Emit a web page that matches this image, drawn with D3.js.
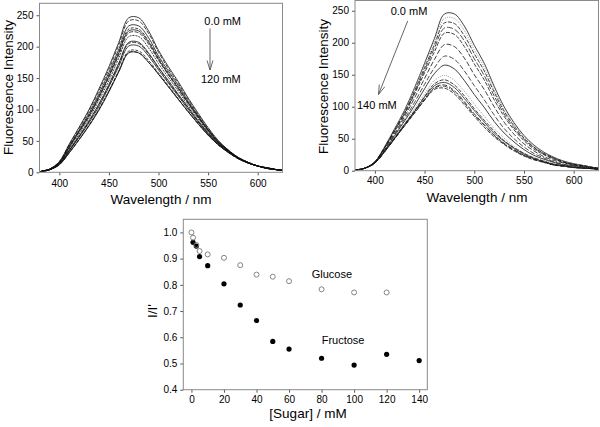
<!DOCTYPE html>
<html><head><meta charset="utf-8">
<script src="https://cdn.jsdelivr.net/npm/d3@7"></script>
<style>
html,body{margin:0;padding:0;background:#fff;}
svg{display:block;font-family:"Liberation Sans",Arial,sans-serif;}
</style></head>
<body>
<svg id="chart" width="600" height="427"></svg>
<script>
// ---------- data ----------
const wavelengths = [380,390,400,410,420,430,440,450,460,470,480,490,500,510,520,530,540,550,560,570,580,590,600,610,620,625];
const waveTicks = [400,450,500,550,600];
const intensityTicks = [0,50,100,150,200,250];

// glucose titration spectra (0 -> 120 mM)
const glucoseLabels = ["0","1","3","5","10","20","30","40","50","60","80","100","120"];
const glu0   = [1,5,17,45,72,100,133,168,207,246,246,225,194,168,144,118,94,71,51,36,24,16,10,7,4,3];
const glu1   = [1,5,17,44,70,98,130,164,203,241,241,221,191,165,141,116,92,70,50,36,24,16,10,7,4,3];
const glu3   = [1,5,16,42,67,94,125,159,196,233,233,214,185,161,138,113,90,68,49,35,24,16,10,7,4,3];
const glu5   = [1,5,15,41,66,92,122,155,192,228,228,209,182,158,135,111,89,67,49,35,23,16,10,7,4,3];
const glu10  = [1,5,15,40,65,90,120,153,190,225,225,207,180,156,134,110,88,67,48,35,23,16,10,7,4,3];
const glu20  = [1,5,15,39,64,89,119,151,187,222,222,204,178,155,132,109,87,66,48,34,23,16,10,7,4,3];
const glu30  = [1,4,14,37,61,86,115,146,182,216,216,198,173,151,129,106,85,65,47,34,23,15,10,6,4,3];
const glu40  = [1,4,13,35,58,82,109,140,174,207,207,190,167,146,124,103,82,63,46,33,23,15,10,6,4,3];
const glu50  = [1,4,13,35,57,81,108,138,172,205,205,188,166,144,123,102,81,62,46,33,23,15,10,6,4,3];
const glu60  = [1,4,13,34,56,79,105,136,169,201,201,185,163,142,121,100,80,61,45,33,22,15,10,6,4,3];
const glu80  = [1,4,12,32,53,75,101,130,162,193,193,178,158,138,117,97,78,60,44,32,22,15,10,6,4,3];
const glu100 = [1,4,12,31,52,74,99,128,160,190,190,175,156,136,116,96,77,59,44,32,22,15,10,6,4,3];
const glu120 = [1,4,12,31,52,75,100,129,161,191,190,175,156,136,116,96,77,59,44,32,22,15,10,6,4,3];

// fructose titration spectra (0 -> 140 mM)
const fructoseLabels = ["0","1","3","5","10","20","30","40","50","60","80","100","120","140"];
const fru0   = [1,4,14,38,66,95,130,168,207,245,245,226,196,168,132,100,75,55,40,29,21,15,11,8,5,4];
const fru1   = [1,4,14,38,65,94,128,165,202,238,238,219,189,162,127,96,72,53,39,28,20,15,11,8,5,4];
const fru3   = [1,4,14,37,64,92,125,161,197,231,230,211,183,156,123,93,70,51,37,27,20,14,10,8,5,4];
const fru5   = [1,4,14,36,63,90,122,157,192,223,221,203,175,149,117,89,67,49,36,26,19,13,10,7,5,4];
const fru10  = [1,4,13,36,62,88,120,153,186,215,213,194,167,142,111,85,64,47,34,25,18,13,9,7,4,3];
const fru20  = [1,4,13,35,59,85,114,144,174,197,194,176,150,127,100,76,57,42,31,22,16,12,9,6,4,3];
const fru30  = [1,4,13,33,57,81,107,135,161,179,174,156,133,111,87,66,50,37,27,20,14,10,8,6,4,3];
const fru40  = [1,4,13,32,55,78,102,128,152,165,159,141,119,99,77,59,45,33,24,18,13,9,7,5,4,3];
const fru50  = [1,4,12,31,53,74,97,120,141,149,141,124,104,85,66,51,38,28,21,16,11,8,6,5,3,2];
const fru60  = [1,4,12,31,52,73,94,116,136,142,134,117,97,79,62,47,36,27,20,15,10,8,6,4,3,2];
const fru80  = [1,4,12,31,51,72,93,115,133,138,130,113,94,76,59,46,35,26,19,14,10,8,5,4,3,2];
const fru100 = [1,4,12,30,51,71,92,112,130,134,125,108,89,72,56,43,33,24,18,14,9,7,5,4,3,2];
const fru120 = [1,4,12,30,50,71,91,111,129,132,123,106,87,71,55,42,32,24,18,13,9,7,5,4,3,2];
const fru140 = [1,4,12,30,50,70,90,110,127,129,120,103,85,68,53,41,31,23,17,13,9,7,5,4,3,2];

// I/I' vs sugar concentration
const glucoseConc  = [0,1,3,5,10,20,30,40,50,60,80,100,120];
const glucoseRatio = [1.0,0.98,0.952,0.929,0.916,0.903,0.875,0.839,0.831,0.814,0.783,0.771,0.771];
const fructoseConc  = [1,3,5,10,20,30,40,50,60,80,100,120,140];
const fructoseRatio = [0.962,0.948,0.908,0.873,0.804,0.723,0.664,0.584,0.555,0.520,0.494,0.535,0.511];
const sugarTicks = [0,20,40,60,80,100,120,140];
const ratioTicks = [0.4,0.5,0.6,0.7,0.8,0.9,1.0];

const glucoseSpectra  = [glu0,glu1,glu3,glu5,glu10,glu20,glu30,glu40,glu50,glu60,glu80,glu100,glu120];
const fructoseSpectra = [fru0,fru1,fru3,fru5,fru10,fru20,fru30,fru40,fru50,fru60,fru80,fru100,fru120,fru140];

// ---------- drawing ----------
const svg = d3.select("#chart");
const FRAME = "#8a8a8a";
const TICKC = "#555";

function styleAxis(g){
  g.select(".domain").remove();
  g.selectAll(".tick line").attr("stroke",TICKC);
  g.selectAll(".tick text").attr("fill","#000").style("font-size","10px");
}

function framePanel(id, x, y, xTicks, yTicks, xFmt, yFmt, padX, padY){
  const [x0,x1] = x.range(); const [y0,y1] = y.range();
  const g = svg.append("g");
  g.append("g").attr("transform",`translate(0,${y0})`)
    .call(d3.axisBottom(x).tickValues(xTicks).tickSize(3).tickPadding(padX).tickFormat(xFmt)).call(styleAxis);
  g.append("g").attr("transform",`translate(${x0},0)`)
    .call(d3.axisLeft(y).tickValues(yTicks).tickSize(3).tickPadding(padY).tickFormat(yFmt)).call(styleAxis);
  svg.append("clipPath").attr("id",id).append("rect")
    .attr("x",x0).attr("y",y1).attr("width",x1-x0).attr("height",y0-y1);
  return g;
}
function drawFrame(x,y){
  const [x0,x1] = x.range(); const [y0,y1] = y.range();
  svg.append("rect").attr("x",x0).attr("y",y1).attr("width",x1-x0).attr("height",y0-y1)
    .attr("fill","none").attr("stroke",FRAME).attr("stroke-width",1);
}

// Panel A: glucose spectra
const xA = d3.scaleLinear().domain([380,625]).range([39.5,282.5]);
const yA = d3.scaleLinear().domain([0,269]).range([172.3,3.3]);
framePanel("clipA", xA, yA, waveTicks, intensityTicks, d3.format("d"), d3.format("d"), 4.5, 3);
const lineA = d3.line().x((d,i)=>xA(wavelengths[i])).y(d=>yA(d)).curve(d3.curveCatmullRom.alpha(0.5));
const gluDash = [null,"4,1.5",null,"3,1.5",null,"4,1.5","2,1",null,"4,1.5",null,"3,1.5",null,"4,1.5"];
svg.append("g").attr("clip-path","url(#clipA)")
  .selectAll("path").data(glucoseSpectra).join("path")
  .attr("d",lineA).attr("fill","none").attr("stroke","#111").attr("stroke-width",0.8)
  .attr("stroke-dasharray",(d,i)=>gluDash[i]);
drawFrame(xA,yA);

// Panel B: fructose spectra
const xB = d3.scaleLinear().domain([380,625]).range([355,598.5]);
const yB = d3.scaleLinear().domain([0,266]).range([170.7,0.5]);
framePanel("clipB", xB, yB, waveTicks, intensityTicks, d3.format("d"), d3.format("d"), 3.5, 3);
const lineB = d3.line().x((d,i)=>xB(wavelengths[i])).y(d=>yB(d)).curve(d3.curveCatmullRom.alpha(0.5));
const fruStyle = [
  {c:"#111",d:null},{c:"#999",d:"1,1.2"},{c:"#111",d:"4,1.5"},{c:"#222",d:"6,2"},
  {c:"#111",d:"4,1.5"},{c:"#111",d:"5,2"},{c:"#222",d:"5,2"},{c:"#111",d:null},
  {c:"#999",d:"1,1.2"},{c:"#111",d:"4,1.5"},{c:"#222",d:null},{c:"#111",d:"5,2"},
  {c:"#222",d:"5,1.5,1,1.5"},{c:"#111",d:"4,1.5"}
];
svg.append("g").attr("clip-path","url(#clipB)")
  .selectAll("path").data(fructoseSpectra).join("path")
  .attr("d",lineB).attr("fill","none")
  .attr("stroke",(d,i)=>fruStyle[i].c).attr("stroke-width",(d,i)=>fruStyle[i].c==="#999"?1:0.8)
  .attr("stroke-dasharray",(d,i)=>fruStyle[i].d);
drawFrame(xB,yB);

// Panel C: I/I'
const xC = d3.scaleLinear().domain([-5,145]).range([183.3,427.3]);
const yC = d3.scaleLinear().domain([0.4,1.05]).range([389.7,219.3]);
framePanel("clipC", xC, yC, sugarTicks, ratioTicks, d3.format("d"), d3.format(".1f"), 3, 3);
svg.append("g").selectAll("circle").data(fructoseConc).join("circle")
  .attr("cx",d=>xC(d)).attr("cy",(d,i)=>yC(fructoseRatio[i])).attr("r",2.6)
  .attr("fill","#000");
svg.append("g").selectAll("circle").data(glucoseConc).join("circle")
  .attr("cx",d=>xC(d)).attr("cy",(d,i)=>yC(glucoseRatio[i])).attr("r",2.5)
  .attr("fill","none").attr("stroke","#777").attr("stroke-width",0.9);
drawFrame(xC,yC);

// ---------- text ----------
function txt(x,y,s,size,anchor,rot){
  const t = svg.append("text").attr("x",x).attr("y",y).text(s)
    .style("font-size",size+"px").attr("fill","#000").attr("text-anchor",anchor||"start");
  if(rot) t.attr("transform",`rotate(${rot},${x},${y})`);
  return t;
}
// axis titles
txt(12.5,87.5,"Fluorescence Intensity",13.5,"middle",-90);
txt(161,204,"Wavelength / nm",13.5,"middle");
txt(327.5,86.5,"Fluorescence Intensity",13.5,"middle",-90);
txt(477,202,"Wavelength / nm",13.5,"middle");
txt(156.5,311,"I/I'",13.5,"middle",-90);
txt(308,417.5,"[Sugar] / mM",13.5,"middle");

// annotations
txt(204.3,25,"0.0 mM",11);
txt(201,83.3,"120 mM",11);
txt(390.7,15,"0.0 mM",11);
txt(357,109,"140 mM",11);
txt(311.7,277.7,"Glucose",11);
txt(321.7,344.3,"Fructose",11);

// arrows
function arrow(x1,y1,x2,y2){
  const a = Math.atan2(y2-y1,x2-x1), L=10, w=0.3;
  svg.append("line").attr("x1",x1).attr("y1",y1).attr("x2",x2).attr("y2",y2)
    .attr("stroke","#555").attr("stroke-width",0.9);
  const p = d3.path();
  p.moveTo(x2-L*Math.cos(a-w), y2-L*Math.sin(a-w));
  p.lineTo(x2,y2);
  p.lineTo(x2-L*Math.cos(a+w), y2-L*Math.sin(a+w));
  svg.append("path").attr("d",p.toString()).attr("fill","none").attr("stroke","#555").attr("stroke-width",0.9);
}
arrow(210,28.5,210,70);
arrow(407.7,21,378.5,94.5);
</script>
</body></html>
